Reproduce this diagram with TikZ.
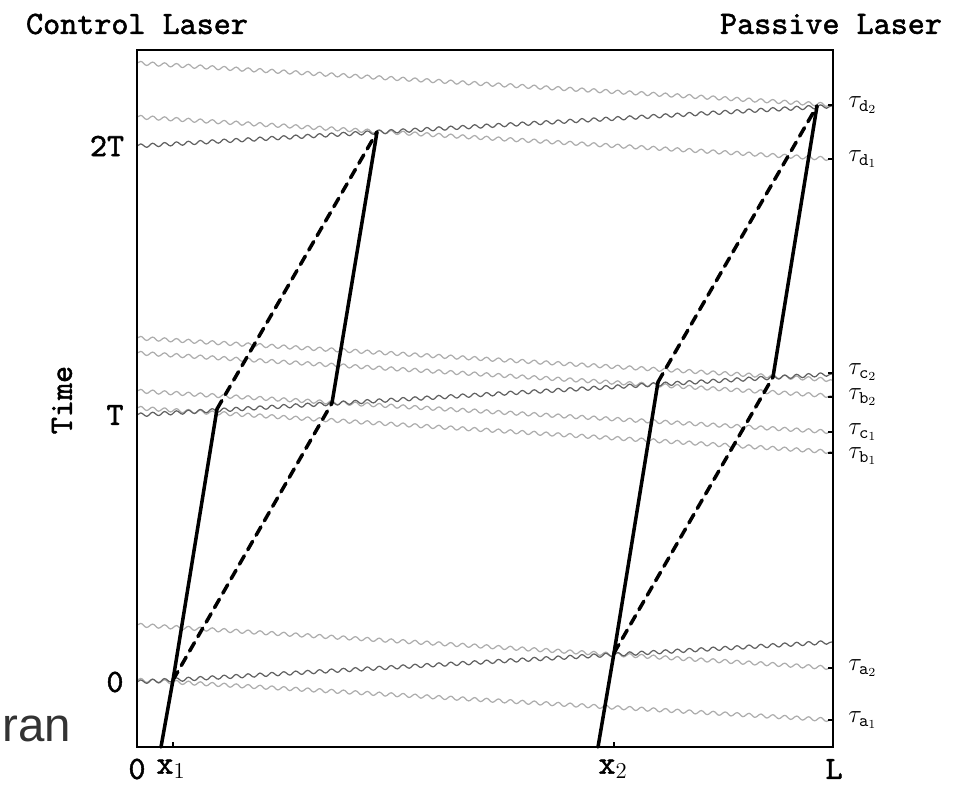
\documentclass[tikz,border=0pt]{standalone}
\usepackage{fontspec}
\newfontfamily\slidefont{Liberation Sans}
\newfontfamily\lblfont[Extension=.otf, FakeBold=1.6]{lmmono10-regular}
\usetikzlibrary{decorations.pathmorphing,positioning}

\begin{document}
\begin{tikzpicture}[
  x=0.02cm, y=-0.02cm,
  every node/.style={font=\lblfont\fontsize{18.5}{20}\selectfont, inner sep=0pt},
  taulbl/.style={anchor=west, font=\lblfont\fontsize{14.5}{16}\selectfont},
  wave/.style={decorate, decoration={snake, segment length=6.8pt, amplitude=1.05pt},
               line width=0.7pt},
  ctrlwave/.style={wave, draw=black!62},
  passwave/.style={wave, draw=black!32},
  world/.style={line width=2pt, line cap=round},
  echo/.style={world, dash pattern=on 5.5pt off 4pt},
  tick/.style={line width=0.6pt},
]
\useasboundingbox (0,0) rectangle (977,785);

% light signals from the passive laser (right to left)
\foreach \yl/\yr in {63/105, 117/159, 338/380, 353/396, 391/432, 408/452, 625/668, 680/720}
  \draw[passwave] (137,\yl) -- (833,\yr);
% light signals from the control laser (left to right)
\foreach \yl/\yr in {146/106, 415/374, 682/642}
  \draw[ctrlwave] (137,\yl) -- (833,\yr);

% frame
\draw[line width=1.1pt] (137,50) rectangle (833,747);

% events on the two world lines
\coordinate (start1) at (161,747);
\coordinate (a1) at (173,680);
\coordinate (b1) at (217,409);
\coordinate (c1) at (332,403);
\coordinate (d1) at (377,132);
\coordinate (start2) at (598,747);
\coordinate (a2) at (614,653);
\coordinate (b2) at (658,382);
\coordinate (c2) at (773,377);
\coordinate (d2) at (817,106);

\draw[world] (start1) -- (a1) -- (b1);
\draw[world] (c1) -- (d1);
\draw[echo] (a1) -- (c1);
\draw[echo] (b1) -- (d1);

\draw[world] (start2) -- (a2) -- (b2);
\draw[world] (c2) -- (d2);
\draw[echo] (a2) -- (c2);
\draw[echo] (b2) -- (d2);

% ticks
\foreach \y in {105, 159, 373, 397, 432, 453, 668, 720}
  \draw[tick] (833,\y) -- ++(-5,0);
\foreach \x in {173, 614}
  \draw[tick] (\x,747) -- ++(0,-5);

% labels
\node (ctrl) at (137,24) {Control Laser};
\node (pass) at (831,24) {Passive Laser};
\node[rotate=90] (time) at (62,400) {Time};
\node (t2T) at (107,146) {2T};
\node (tT) at (115,415) {T};
\node (t0) at (115,682) {0};

\node (x0) at (137,769) {0};
\node (x1) at (171,769) {x$_{\mathrm{1}}$};
\node (x2) at (613,769) {x$_{\mathrm{2}}$};
\node (xL) at (834,769) {L};

\foreach \y/\s/\k in {105/d/2, 159/d/1, 372/c/2, 397/b/2, 432/c/1, 456/b/1, 668/a/2, 720/a/1}
  \node[taulbl] (tau\s\k) at (848,\y) {$\tau_{\mathtt{\s}_{\k}}$};

\node[anchor=west, font=\slidefont\fontsize{27}{30}\selectfont, text=black!80] (slide) at (2,729) {ran};
\end{tikzpicture}
\end{document}
